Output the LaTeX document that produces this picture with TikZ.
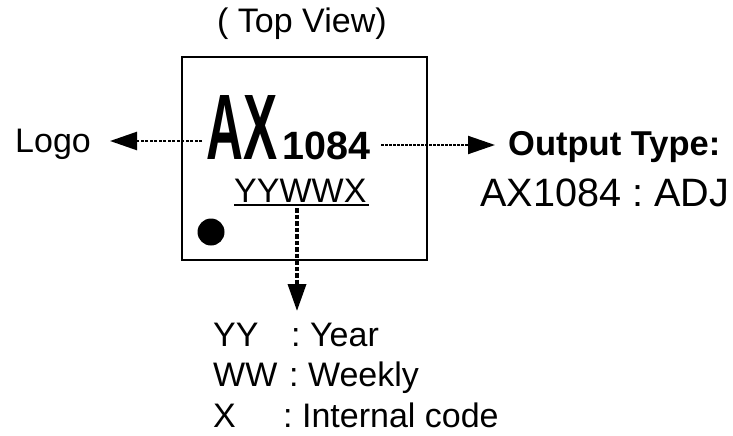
\documentclass[tikz,border=0pt]{standalone}
\usepackage{fontspec}
\setmainfont{Liberation Sans}
\usetikzlibrary{arrows.meta}
\frenchspacing
\tikzset{lbl/.style={inner sep=0pt,anchor=base west,font=\fontsize{34}{34}\selectfont},
 conn/.style={dash pattern=on 3pt off 1.5pt,line width=2.5pt,-{Triangle[width=18pt,length=27pt,sep=0pt]}},
 connthin/.style={conn,dash pattern=on 2.8pt off 1.2pt,line width=2pt},
 connthick/.style={conn,dash pattern=on 4.5pt off 2pt,line width=3.5pt}}
\begin{document}
\begin{tikzpicture}[x=1pt,y=-1pt]
\useasboundingbox (0,0) rectangle (733,436);
\node[lbl] (top) at (217,33) {( Top View)};
\node[draw,line width=2.6pt,minimum width=245pt,minimum height=203pt,inner sep=0pt] (chip) at (304.5,158.5) {};
\node[lbl,font=\fontsize{93}{93}\selectfont\bfseries] (ax) at (206.5,159) {\scalebox{0.55}[1]{AX}};
\node[lbl,font=\fontsize{39.5}{39.5}\selectfont\bfseries] (num) at (282,159) {1084};
\node[lbl] (yy) at (234,202) {YYWWX};
\coordinate (ul1) at (234,205); \coordinate (ul2) at (369,205);
\draw[line width=2pt] (ul1)--(ul2);
\node[fill=black,circle,minimum size=27pt,inner sep=0pt] (dot) at (211,232) {};
\node[lbl] (logo) at (15,152) {Logo};
\node[lbl,font=\fontsize{34.5}{34.5}\selectfont\bfseries] (ot) at (508,155) {Output Type:};
\node[lbl,font=\fontsize{39.6}{39.6}\selectfont] (adj) at (480,206) {AX1084 : ADJ};
\node[lbl] (l1) at (213,346) {YY};
\node[lbl] (l1b) at (291,346) {: Year};
\node[lbl] (l2) at (213,386) {WW};
\node[lbl] (l2b) at (289,386) {: Weekly};
\node[lbl] (l3) at (213,427) {X};
\node[lbl] (l3b) at (283,427) {: Internal code};
\coordinate (a) at (202,141);
\coordinate (b) at (381,145);
\coordinate (c) at (297,208);
\coordinate (ltip) at (110,141);
\coordinate (rtip) at (495,145);
\coordinate (dtip) at (297,311);
\draw[conn] (a)--(ltip);
\draw[connthin] (b)--(rtip);
\draw[connthick] (c)--(dtip);
\end{tikzpicture}
\end{document}
